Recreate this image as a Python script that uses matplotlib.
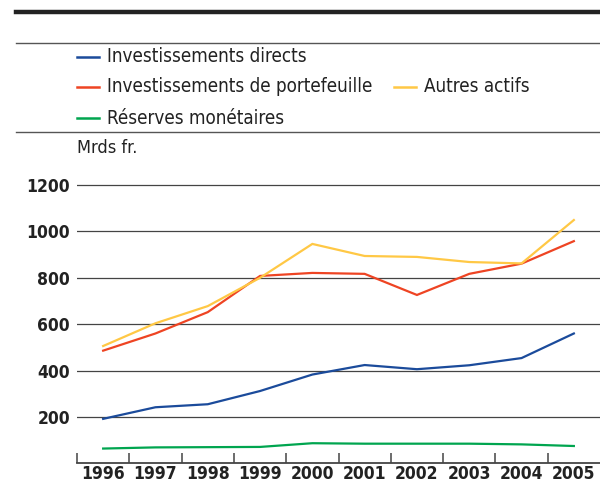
import numpy as np
import matplotlib.pyplot as plt
from matplotlib.lines import Line2D

# data (Mrds fr.)
years = [1996, 1997, 1998, 1999, 2000, 2001, 2002, 2003, 2004, 2005]
directs = [192, 242, 255, 312, 383, 424, 406, 423, 454, 560]
portefeuille = [486, 560, 652, 808, 821, 817, 726, 817, 861, 958]
autres = [506, 604, 678, 800, 946, 894, 890, 868, 862, 1049]
reserves = [64, 69, 70, 71, 87, 85, 85, 85, 82, 75]

names = ["Investissements directs", "Investissements de portefeuille",
         "Autres actifs", "Réserves monétaires"]
colors = ["#1b4b9b", "#ee4423", "#ffc845", "#00a54f"]
yticks = [200, 400, 600, 800, 1000, 1200]

plt.rcParams['font.family'] = ['DejaVu Sans']
W, H = 600, 486
fig = plt.figure(figsize=(6.0, 4.86), dpi=100)

# axes placement in pixels
left, right = 77, 600
y0, y1200 = 463.4, 185.0
ymax = 1230
ytop = y0 - (y0 - y1200) * ymax / 1200
ax = fig.add_axes([left / W, (H - y0) / H, (right - left) / W, (y0 - ytop) / H])

series = [directs, portefeuille, autres, reserves]
for vals, c in zip(series, colors):
    ax.plot(years, vals, color=c, lw=1.6, solid_joinstyle='miter')

ax.set_xlim(1995.5, 2005.5)
ax.set_ylim(0, ymax)
ax.set_yticks(yticks)
for v in yticks:
    ax.axhline(v, color="#444444", lw=0.9, zorder=0)
ax.set_xticks(years)
ax.set_xticks([y - 0.5 for y in years], minor=True)
ax.tick_params(axis='x', which='major', length=0, pad=1.5)
ax.tick_params(axis='x', which='minor', length=7, width=1.1, direction='in', color="#444444")
ax.tick_params(axis='y', length=0, pad=5)
for lab in ax.get_xticklabels() + ax.get_yticklabels():
    lab.set_fontweight('bold')
    lab.set_fontsize(12.5)
    lab.set_fontstretch('condensed')
    lab.set_color("#222222")
for s in ['top', 'right', 'left']:
    ax.spines[s].set_visible(False)
ax.spines['bottom'].set_color("#444444")
ax.spines['bottom'].set_linewidth(1.3)

fig.text(77 / W, 1 - 148 / H, "Mrds fr.", fontsize=13, color="#222222",
         va='center', ha='left', fontstretch='condensed')

# top rules
fig.add_artist(Line2D([16 / W, 1], [1 - 12 / H] * 2, color="#222222", lw=3.2))
fig.add_artist(Line2D([16 / W, 1], [1 - 43 / H] * 2, color="#555555", lw=1.0))
fig.add_artist(Line2D([16 / W, 1], [1 - 132 / H] * 2, color="#555555", lw=1.0))

# legend
pos = [(77, 57), (77, 87), (394, 87), (77, 118)]
for (x, y), name, c in zip(pos, names, colors):
    fig.add_artist(Line2D([x / W, (x + 22) / W], [1 - y / H] * 2, color=c, lw=1.8))
    fig.text((x + 30) / W, 1 - y / H, name, fontsize=13.5, color="#222222",
             va='center', ha='left', fontstretch='condensed')

fig.savefig("out.png", dpi=100)
